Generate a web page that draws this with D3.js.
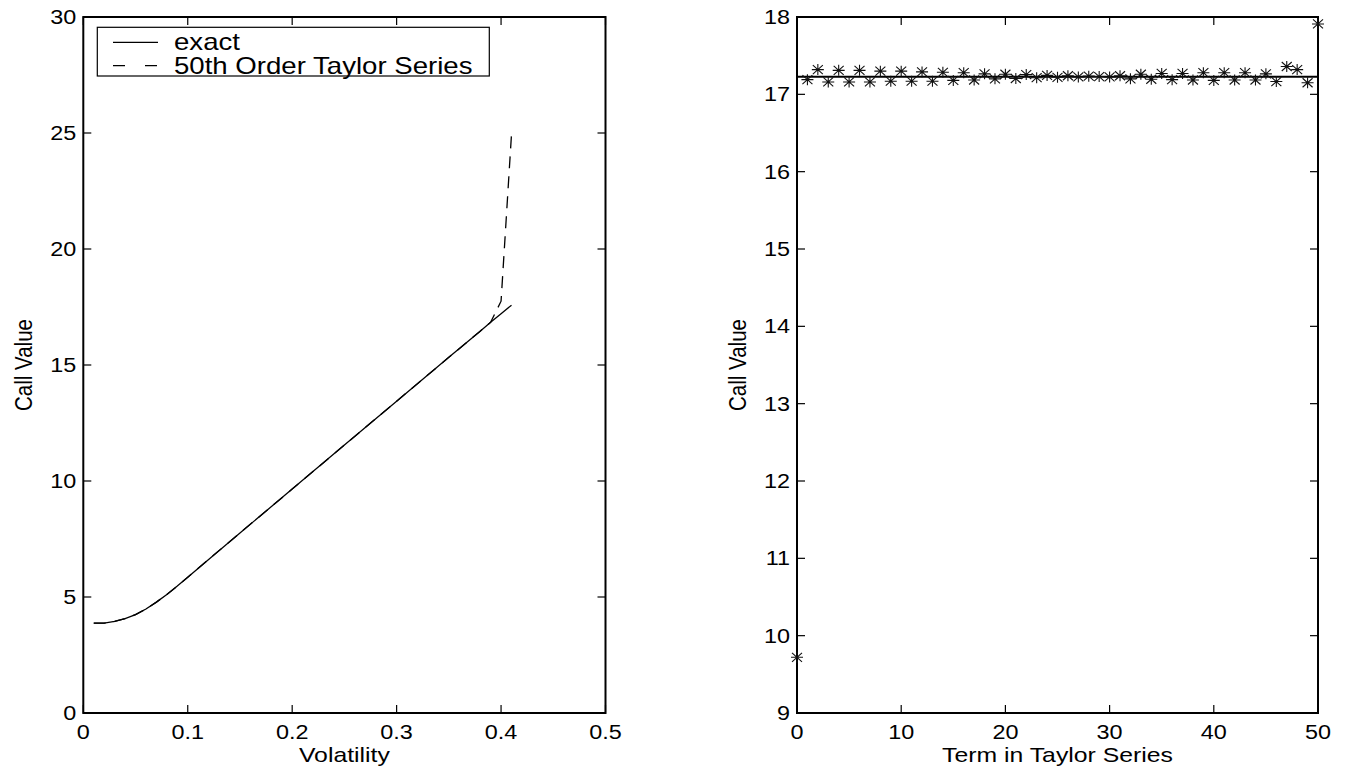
<!DOCTYPE html>
<html>
<head>
<meta charset="utf-8">
<script src="https://cdn.jsdelivr.net/npm/d3@7"></script>
<style>
  body { margin: 0; background: #fff; }
  text { font-family: "Liberation Sans", Arial, sans-serif; fill: #000; }
</style>
</head>
<body>
<svg id="chart" width="1348" height="767"></svg>
<script>
// left panel: call value against volatility
const volatility = [0.01, 0.02, 0.03, 0.04, 0.05, 0.06, 0.07, 0.08, 0.09, 0.10,
  0.12, 0.15, 0.20, 0.25, 0.30, 0.35, 0.38, 0.39, 0.40, 0.41]
const exactValue = [3.87, 3.87, 3.95, 4.07, 4.24, 4.48, 4.78, 5.11, 5.47, 5.85,
  6.62, 7.76, 9.65, 11.55, 13.44, 15.33, 16.46, 16.84, 17.21, 17.58]
const taylorValue = [3.87, 3.87, 3.95, 4.07, 4.24, 4.48, 4.78, 5.11, 5.47, 5.85,
  6.62, 7.76, 9.65, 11.55, 13.44, 15.33, 16.46, 16.84, 17.75, 24.95]
const leftXTicks = [0, 0.1, 0.2, 0.3, 0.4, 0.5]
const leftYTicks = [0, 5, 10, 15, 20, 25, 30]
const legendLabels = ['exact', '50th Order Taylor Series']

// right panel: call value after each term of the series
const terms = d3.range(0, 51)
const partialSum = [9.72, 17.19, 17.32, 17.16, 17.31, 17.16, 17.31, 17.16, 17.30, 17.17,
  17.30, 17.17, 17.29, 17.17, 17.285, 17.18, 17.28, 17.185, 17.265, 17.20,
  17.26, 17.205, 17.255, 17.215, 17.245, 17.22, 17.24, 17.225, 17.235, 17.23,
  17.225, 17.24, 17.20, 17.26, 17.195, 17.27, 17.19, 17.27, 17.185, 17.28,
  17.18, 17.28, 17.185, 17.28, 17.185, 17.265, 17.165, 17.36, 17.32, 17.15,
  17.91]
const exactCall = 17.228
const rightXTicks = [0, 10, 20, 30, 40, 50]
const rightYTicks = [9, 10, 11, 12, 13, 14, 15, 16, 17, 18]

const svg = d3.select('#chart')
const yTop = 17, yBot = 713
const sx = 1.2   // the original figure is stretched sideways

function label(g, x, y, txt, size, anchor, stretch){
  return g.append('text').attr('transform', `translate(${x},${y}) scale(${stretch || sx},1)`)
    .attr('text-anchor', anchor || 'middle').style('font-size', size + 'px').text(txt)
}

function drawFrame(x, y, xTicks, yTicks, xFmt, xTitle, yTitle){
  let x0 = x.range()[0], x1 = x.range()[1]
  let g = svg.append('g')
  let tl = 8
  xTicks.forEach(t => {
    g.append('line').attr('x1', x(t)).attr('x2', x(t)).attr('y1', yBot).attr('y2', yBot - tl)
      .attr('stroke', '#000').attr('stroke-width', 1.2)
    g.append('line').attr('x1', x(t)).attr('x2', x(t)).attr('y1', yTop).attr('y2', yTop + tl)
      .attr('stroke', '#000').attr('stroke-width', 1.2)
    label(g, x(t), yBot + 26, xFmt(t), 19.5)
  })
  yTicks.forEach(t => {
    g.append('line').attr('x1', x0).attr('x2', x0 + tl).attr('y1', y(t)).attr('y2', y(t))
      .attr('stroke', '#000').attr('stroke-width', 1.2)
    g.append('line').attr('x1', x1).attr('x2', x1 - tl).attr('y1', y(t)).attr('y2', y(t))
      .attr('stroke', '#000').attr('stroke-width', 1.2)
    label(g, x0 - 7, y(t) + 7, t, 19.5, 'end')
  })
  g.append('rect').attr('x', x0).attr('y', yTop).attr('width', x1 - x0).attr('height', yBot - yTop)
    .attr('fill', 'none').attr('stroke', '#000').attr('stroke-width', 2)
  label(g, (x0 + x1) / 2, 762, xTitle, 20, 'middle', 1.24)
  g.append('text').attr('transform', `translate(${x0 - 51},${(yTop + yBot) / 2}) rotate(-90) scale(1,${sx})`)
    .attr('text-anchor', 'middle').style('font-size', '20.5px').text(yTitle)
}

// left
let xL = d3.scaleLinear().domain([0, 0.5]).range([83.3, 605.5])
let yL = d3.scaleLinear().domain([0, 30]).range([yBot, yTop])
drawFrame(xL, yL, leftXTicks, leftYTicks, d => d === 0 ? '0' : d3.format('.1f')(d), 'Volatility', 'Call Value')

let lineL = d3.line().x((d, i) => xL(volatility[i])).y(d => yL(d))
svg.append('path').datum(taylorValue).attr('d', lineL).attr('fill', 'none')
  .attr('stroke', '#000').attr('stroke-width', 1.3).attr('stroke-dasharray', '12,8')
svg.append('path').datum(exactValue).attr('d', lineL).attr('fill', 'none')
  .attr('stroke', '#000').attr('stroke-width', 1.3)

// legend
let lg = svg.append('g')
lg.append('rect').attr('x', 97.3).attr('y', 27.3).attr('width', 392).attr('height', 48.7)
  .attr('fill', '#fff').attr('stroke', '#000').attr('stroke-width', 1.2)
legendLabels.forEach((lab, i) => {
  let ly = 42.3 + i * 23.4
  lg.append('line').attr('x1', 113).attr('x2', 158).attr('y1', ly).attr('y2', ly)
    .attr('stroke', '#000').attr('stroke-width', 1.2).attr('stroke-dasharray', i ? '12,20' : null)
  label(lg, 174, ly + 8, lab, 23, 'start', 1.2)
})

// right
let xR = d3.scaleLinear().domain([0, 50]).range([797, 1318])
let yR = d3.scaleLinear().domain([9, 18]).range([yBot, yTop])
drawFrame(xR, yR, rightXTicks, rightYTicks, d => d, 'Term in Taylor Series', 'Call Value')

svg.append('line').attr('x1', xR(0)).attr('x2', xR(50)).attr('y1', yR(exactCall)).attr('y2', yR(exactCall))
  .attr('stroke', '#000').attr('stroke-width', 2)

let star = 'M-6,0L6,0M0,-5.5L0,5.5M-5,-4.5L5,4.5M-5,4.5L5,-4.5'
svg.append('g').selectAll('path').data(partialSum).enter().append('path')
  .attr('transform', (d, i) => `translate(${xR(terms[i])},${yR(d)})`)
  .attr('d', star).attr('fill', 'none').attr('stroke', '#111').attr('stroke-width', 1.1)
</script>
</body>
</html>
